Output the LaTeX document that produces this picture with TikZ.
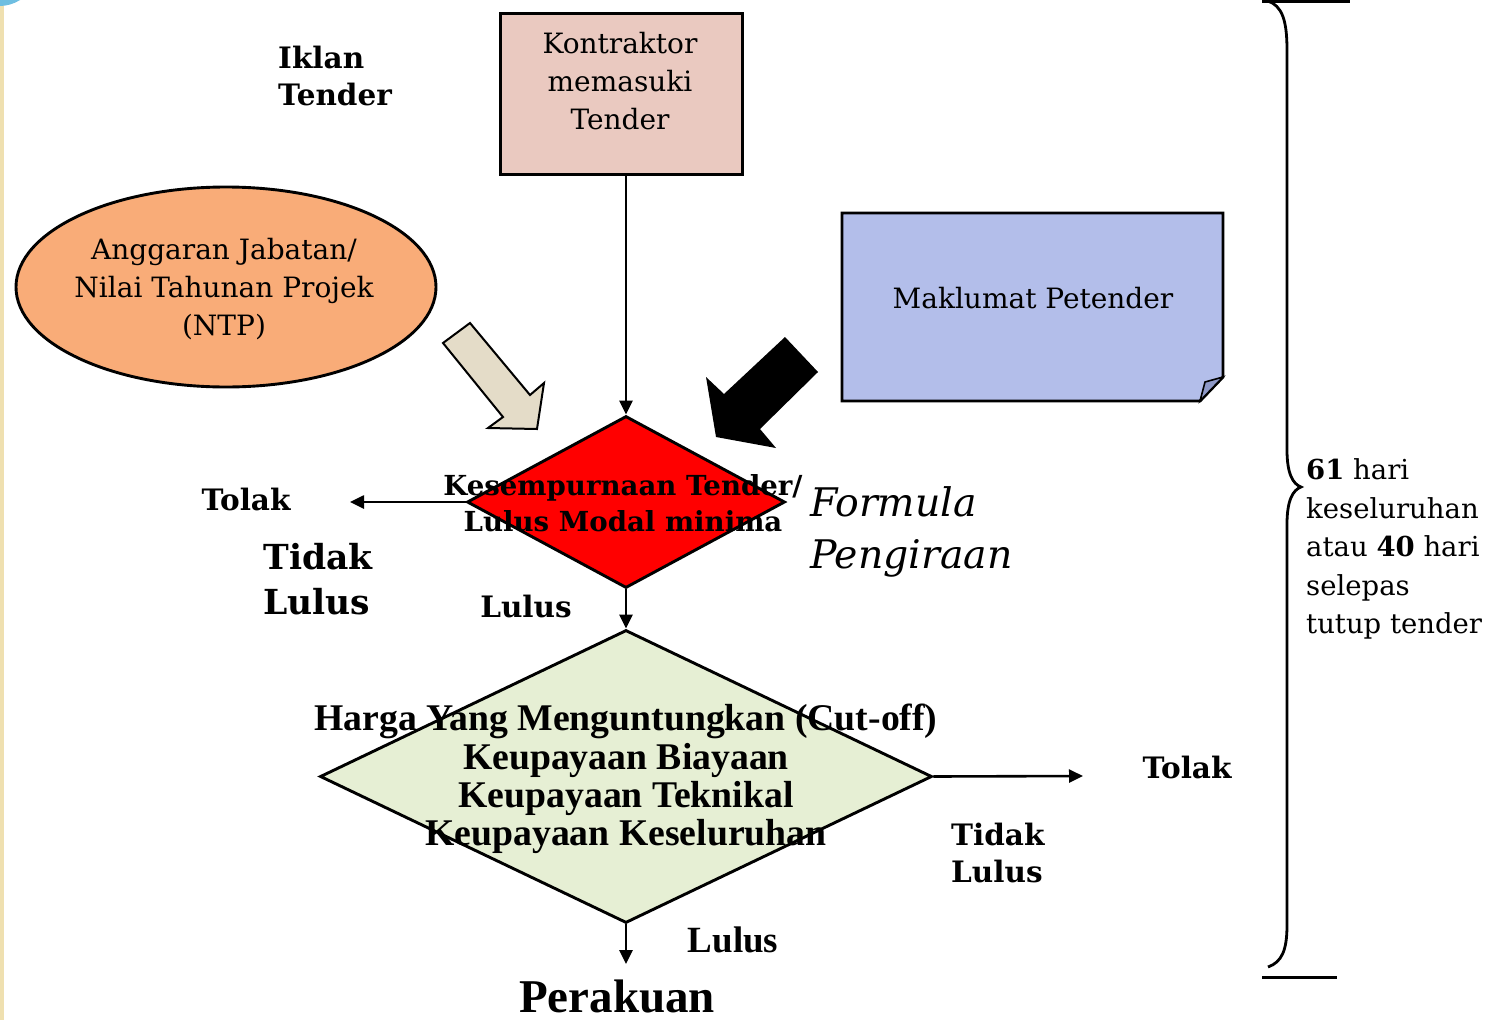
\documentclass[tikz,border=0pt]{standalone}
\usepackage{fontspec}
\setmainfont{DejaVu Serif}
\newfontfamily\timesf{Liberation Serif}
\usetikzlibrary{shapes.geometric,arrows.meta}
\definecolor{pinkc}{RGB}{234,201,192}
\definecolor{orangec}{RGB}{249,172,120}
\definecolor{bluec}{RGB}{179,190,234}
\definecolor{foldc}{RGB}{142,153,199}
\definecolor{greenc}{RGB}{230,239,212}
\definecolor{beigec}{RGB}{228,220,200}
\definecolor{stripc}{RGB}{239,224,176}
\definecolor{cornerc}{RGB}{110,190,225}
\tikzset{
  conn/.style={line width=2.6pt,-{Triangle[length=14pt,width=13pt]}},
  shapeline/.style={draw,line width=2.9pt,inner sep=0pt},
  regtxt/.style={font=\fontsize{28}{38}\selectfont,align=center,inner sep=0pt},
  boldtxt/.style={font=\fontsize{29.5}{37.5}\selectfont\bfseries,align=left,inner sep=0pt},
  dtxt/.style={font=\fontsize{27.6}{36}\selectfont\bfseries,align=center,inner sep=0pt},
  bigbold/.style={font=\fontsize{34.5}{45}\selectfont\bfseries,align=left,inner sep=0pt},
  condtxt/.style={font=\timesf\bfseries\fontsize{37.7}{38.3}\selectfont,align=center,inner sep=0pt},
  itxt/.style={font=\fontsize{39.4}{52}\selectfont\itshape,align=left,inner sep=0pt},
  sidetxt/.style={font=\fontsize{27.5}{38.5}\selectfont,align=left,inner sep=0pt}
}
\begin{document}
\begin{tikzpicture}[x=1pt,y=-1pt]
\useasboundingbox (0,0) rectangle (1491,1020);
\fill[white] (0,0) rectangle (1491,1020);
\fill[stripc] (0,0) rectangle (4,1020);
\fill[cornerc] (0,0) -- (20,0) .. controls (14,4) and (6,6) .. (0,6) -- cycle;

% top box
\node[shapeline,fill=pinkc,minimum width=242pt,minimum height=161pt,anchor=north west] (kb) at (499,12) {};
\node[regtxt] (kt) at (620,81) {Kontraktor\\memasuki\\Tender};

% Iklan Tender
\node[boldtxt,anchor=west] (iklan) at (278,76) {Iklan\\Tender};

% ellipse
\node[ellipse,shapeline,fill=orangec,minimum width=420pt,minimum height=200pt] (ell) at (226,287) {};
\node[regtxt] (et) at (224,289) {Anggaran Jabatan/\\Nilai Tahunan Projek\\(NTP)};

% Maklumat Petender box
\coordinate (mk) at (842,213);
\draw[line width=2.9pt,fill=bluec] (mk) -- (1223,213) -- (1223,377) -- (1200,401) -- (842,401) -- cycle;
\draw[line width=1.6pt,fill=foldc] (1223,377) -- (1205,382) -- (1200,401) -- cycle;
\node[regtxt] (mt) at (1033,298) {Maklumat Petender};

% arrows into diamond
\draw[line width=2pt,fill=beigec] (443,343) -- (470,323) -- (530,395) -- (544,383) -- (537,429) -- (488,428) -- (503,417) -- cycle;
\fill[black] (785,337) -- (818,372) -- (760,429) -- (776,448) -- (716,437) -- (706,377) -- (724,394) -- cycle;

% red diamond
\node[diamond,shapeline,fill=red,minimum width=318pt,minimum height=172pt] (d1) at (626,502) {};
\node[dtxt] (d1t) at (623,503) {Kesempurnaan Tender/\\Lulus Modal minima};

% left reject
\coordinate (tl1) at (350,502);
\node[boldtxt] (tolak1) at (246,499) {Tolak};
\node[bigbold] (tl1t) at (318,579) {Tidak\\Lulus};
\node[boldtxt] (lulus1) at (526,606) {Lulus};

% formula
\node[itxt,anchor=west] (form) at (810,532) {Formula\\Pengiraan};

% green diamond
\node[diamond,shapeline,fill=greenc,minimum width=612pt,minimum height=293pt] (d2) at (626,776.5) {};
\node[condtxt] (d2t) at (626,779) {Harga Yang Menguntungkan (Cut-off)\\Keupayaan Biayaan\\Keupayaan Teknikal\\Keupayaan Keseluruhan};

% right reject
\coordinate (tl2) at (1083,776);
\node[boldtxt] (tolak2) at (1187,767) {Tolak};
\node[boldtxt,anchor=west] (tl2t) at (951,853) {Tidak\\Lulus};

% bottom
\coordinate (pk) at (626,964);
\node[font=\timesf\bfseries\fontsize{37}{40}\selectfont,inner sep=0pt] (lulus2) at (733,940) {Lulus};
\node[font=\timesf\bfseries\fontsize{47}{50}\selectfont,inner sep=0pt] (perakuan) at (617,996) {Perakuan};

% connectors
\draw[conn] (kb.south -| d1.north) -- (d1.north);
\draw[conn] (d1.west) -- (tl1);
\draw[conn] (d1.south) -- (d2.north);
\draw[conn] (d2.east) -- (tl2);
\draw[conn] (d2.south) -- (pk);

% brace
\draw[line width=3pt] (1262,1.5) -- (1350,1.5);
\draw[line width=3pt] (1262,977) -- (1337,977);
\draw[line width=2.8pt] (1268,1) .. controls (1282,6) and (1287,20) .. (1287,50) -- (1287,450) .. controls (1287,474) and (1293,484) .. (1301,487) .. controls (1293,490) and (1287,500) .. (1287,524) -- (1287,925) .. controls (1287,950) and (1282,962) .. (1268,967);
\node[sidetxt,anchor=west] (bt) at (1306,549) {\textbf{61} hari\\keseluruhan\\atau \textbf{40} hari\\selepas\\tutup tender};
\end{tikzpicture}
\end{document}
